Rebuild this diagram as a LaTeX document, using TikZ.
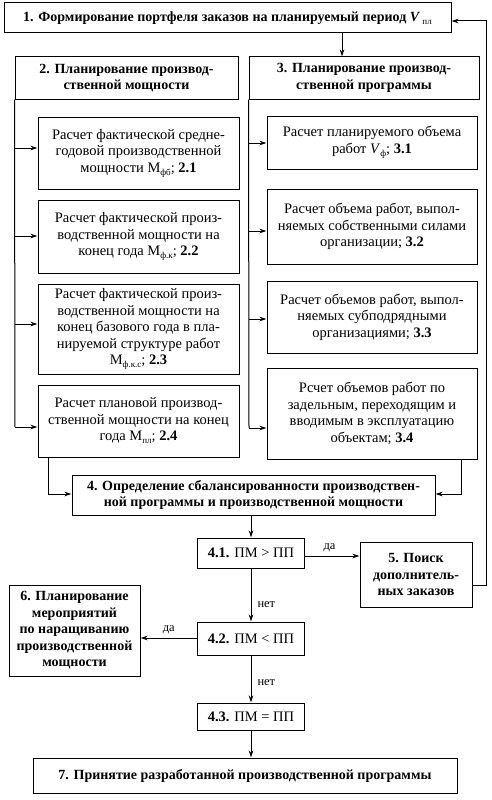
\documentclass[tikz,border=0pt]{standalone}
\usepackage{fontspec}
\setmainfont{Liberation Serif}
\usetikzlibrary{arrows.meta}
\newcommand\lowtxt[1]{\raisebox{-0.45ex}{\fontsize{9}{9}\selectfont #1}}
\tikzset{
  box/.style={draw, line width=1pt, inner sep=1pt, align=center,
    font=\fontsize{14.5}{16.5}\selectfont},
  bbox/.style={box, font=\fontsize{14}{16.5}\selectfont\bfseries},
  conn/.style={line width=1pt},
  arr/.style={conn, -{Stealth[length=7pt,width=4.5pt]}},
  lbl/.style={font=\fontsize{12.5}{13}\selectfont, inner sep=1pt}
}
\begin{document}
\begin{tikzpicture}[x=1pt,y=-1pt]
\useasboundingbox (0,0) rectangle (492,800);
% boxes
\node[bbox, minimum width=447pt, minimum height=30pt] (b1) at (227.5,18)
  {1. Формирование портфеля заказов на планируемый период \textit{V}\,\lowtxt{\mdseries пл}};
\node[bbox, minimum width=223pt, minimum height=42pt] (h2) at (126.5,78)
  {2. Планирование производ-\\ственной мощности};
\node[bbox, minimum width=230pt, minimum height=42pt] (h3) at (364,78)
  {3. Планирование производ-\\ственной программы};
\node[box, minimum width=201pt, minimum height=72pt] (b21) at (138.5,153)
  {Расчет фактической средне-\\годовой производственной\\мощности М\lowtxt{фб}; \textbf{2.1}};
\node[box, minimum width=201pt, minimum height=73pt] (b22) at (138.5,236.5)
  {Расчет фактической произ-\\водственной мощности на\\конец года М\lowtxt{ф.к}; \textbf{2.2}};
\node[box, minimum width=201pt, minimum height=90pt] (b23) at (138.5,329)
  {Расчет фактической произ-\\водственной мощности на\\конец базового года в пла-\\нируемой структуре работ\\М\lowtxt{ф.к.с}; \textbf{2.3}};
\node[box, minimum width=201pt, minimum height=72pt] (b24) at (138.5,421)
  {Расчет плановой производ-\\ственной мощности на конец\\года М\lowtxt{пл}; \textbf{2.4}};
\node[box, minimum width=210pt, minimum height=53pt] (b31) at (372,142.5)
  {Расчет планируемого объема\\работ \textit{V}\lowtxt{ф}; \textbf{3.1}};
\node[box, minimum width=210pt, minimum height=75pt] (b32) at (372,226.5)
  {Расчет объема работ, выпол-\\няемых собственными силами\\организации; \textbf{3.2}};
\node[box, minimum width=210pt, minimum height=72pt] (b33) at (372,317)
  {Расчет объемов работ, выпол-\\няемых субподрядными\\организациями; \textbf{3.3}};
\node[box, minimum width=210pt, minimum height=91pt] (b34) at (372,413.5)
  {Рсчет объемов работ по\\задельным, переходящим и\\вводимым в эксплуатацию\\объектам; \textbf{3.4}};
\node[bbox, minimum width=363pt, minimum height=40pt] (b4) at (253.5,495)
  {4. Определение сбалансированности производствен-\\ной программы и производственной мощности};
\node[box, minimum width=107pt, minimum height=30pt] (b41) at (251,553)
  {\textbf{4.1.} ПМ > ПП};
\node[bbox, minimum width=112pt, minimum height=65pt] (b5) at (416,574.5)
  {5. Поиск\\дополнитель-\\ных заказов};
\node[box, minimum width=107pt, minimum height=33pt] (b42) at (251,638.5)
  {\textbf{4.2.} ПМ < ПП};
\node[bbox, minimum width=131pt, minimum height=91pt] (b6) at (74.5,630.5)
  {6. Планирование\\мероприятий\\по наращиванию\\производственной\\мощности};
\node[box, minimum width=107pt, minimum height=27pt] (b43) at (251,716.5)
  {\textbf{4.3.} ПМ = ПП};
\node[bbox, minimum width=424pt, minimum height=35pt] (b7) at (245,775.5)
  {7. Принятие разработанной производственной программы};
% connectors
\draw[arr] (b1.south -| 342,0) -- (h3.north -| 342,0);
% left spine
\coordinate (l21) at (15,148);
\coordinate (l22) at (15,236);
\coordinate (l23) at (15,324);
\coordinate (l24) at (15,427);
\draw[conn] (h2.south west) -- (l24);
\draw[arr] (l21) -- (l21 -| b21.west);
\draw[arr] (l22) -- (l22 -| b22.west);
\draw[arr] (l23) -- (l23 -| b23.west);
\draw[arr] (l24) -- (l24 -| b24.west);
% right spine
\coordinate (r31) at (249,143);
\coordinate (r32) at (249,231);
\coordinate (r33) at (249,319);
\coordinate (r34) at (249,428);
\draw[conn] (h3.south west) -- (r34);
\draw[arr] (r31) -- (r31 -| b31.west);
\draw[arr] (r32) -- (r32 -| b32.west);
\draw[arr] (r33) -- (r33 -| b33.west);
\draw[arr] (r34) -- (r34 -| b34.west);
% into box 4
\coordinate (j2) at (48,494);
\coordinate (j3) at (461,494);
\draw[arr] (b24.south -| j2) -- (j2) -- (j2 -| b4.west);
\draw[arr] (b34.south -| j3) -- (j3) -- (j3 -| b4.east);
% decision chain
\draw[arr] (b4.south -| b41.north) -- (b41.north);
\draw[arr] (b41.south) -- node[lbl, right=5pt, pos=0.68] {нет} (b42.north);
\draw[arr] (b42.south) -- node[lbl, right=5pt, pos=0.58] {нет} (b43.north);
\draw[arr] (b43.south) -- (b7.north -| b43.south);
\coordinate (d1) at (0,556);
\draw[arr] (d1 -| b41.east) -- node[lbl, above=3pt, pos=0.45] {да} (d1 -| b5.west);
\coordinate (d2) at (0,638);
\draw[arr] (d2 -| b42.west) -- node[lbl, above=3pt] {да} (d2 -| b6.east);
% feedback
\coordinate (f1) at (486,585);
\coordinate (f2) at (486,21);
\draw[arr] (f1 -| b5.east) -- (f1) -- (f2) -- (f2 -| b1.east);
\end{tikzpicture}
\end{document}
